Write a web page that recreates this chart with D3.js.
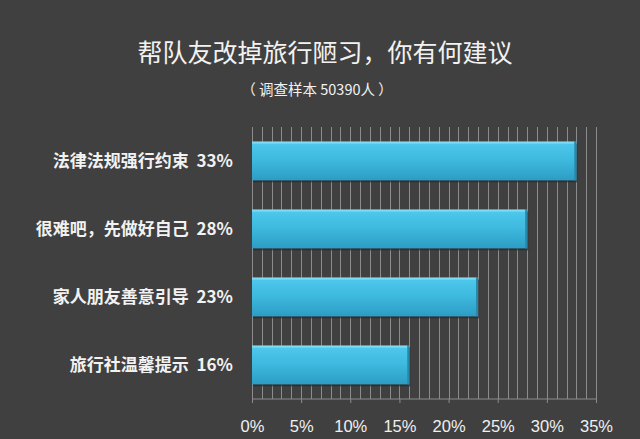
<!DOCTYPE html>
<html>
<head>
<meta charset="utf-8">
<script src="https://cdn.jsdelivr.net/npm/d3@7"></script>
<style>
  html, body { margin: 0; padding: 0; background: #404040; }
  svg { display: block; font-family: "Noto Sans CJK SC", "Noto Sans", sans-serif; }
</style>
</head>
<body>
<div id="chart"></div>
<script>
"use strict";

var categories = ["法律法规强行约束", "很难吧，先做好自己", "家人朋友善意引导", "旅行社温馨提示"];
var values = [33, 28, 23, 16];
var tickValues = [0, 5, 10, 15, 20, 25, 30, 35];
var title = "帮队友改掉旅行陋习，你有何建议";
var subtitle = "（ 调查样本 50390人 ）";

var W = 640, H = 439;
var margin = {top: 127, right: 44, bottom: 40, left: 252};
var width = W - margin.left - margin.right,
    height = H - margin.top - margin.bottom;

var x = d3.scaleLinear().domain([0, 35]).range([0, width]);
var y = d3.scaleBand().domain(categories).range([0, height]).paddingInner(0.43).paddingOuter(0.215);

var svgRoot = d3.select("#chart").append("svg")
    .attr("width", W).attr("height", H);

svgRoot.append("rect").attr("width", W).attr("height", H).attr("fill", "#404040");

var defs = svgRoot.append("defs");
var grad = defs.append("linearGradient").attr("id", "barGrad")
    .attr("x1", 0).attr("y1", 0).attr("x2", 0).attr("y2", 1);
grad.append("stop").attr("offset", "0%").attr("stop-color", "#4fc9ec");
grad.append("stop").attr("offset", "45%").attr("stop-color", "#3fbae0");
grad.append("stop").attr("offset", "100%").attr("stop-color", "#2c9dc4");

svgRoot.append("text")
    .attr("x", 325).attr("y", 62)
    .attr("text-anchor", "middle")
    .attr("fill", "#f2f2f2")
    .attr("font-size", 25)
    .text(title);

svgRoot.append("text")
    .attr("x", 317).attr("y", 95)
    .attr("text-anchor", "middle")
    .attr("fill", "#f2f2f2")
    .attr("font-size", 14.5)
    .text(subtitle);

var svg = svgRoot.append("g")
    .attr("transform", "translate(" + margin.left + "," + margin.top + ")");

// minor gridlines every 1%
svg.append("g")
    .selectAll("line")
    .data(d3.range(0, 36))
    .enter().append("line")
    .attr("x1", d => Math.round(x(d)) + 0.5)
    .attr("x2", d => Math.round(x(d)) + 0.5)
    .attr("y1", 0).attr("y2", height)
    .attr("stroke", "#8c8c8c")
    .attr("stroke-width", 1);

// bottom axis
var axis = svg.append("g")
    .attr("transform", "translate(0," + height + ")")
    .call(d3.axisBottom(x).tickValues(tickValues).tickSize(4).tickFormat(d => d + "%"));
axis.select(".domain").attr("stroke", "#8c8c8c").attr("d", "M0.5,0H" + (width + 0.5));
axis.selectAll(".tick line").attr("stroke", "#8c8c8c");
axis.selectAll(".tick text")
    .attr("fill", "#f0f0f0")
    .attr("font-size", 16.5)
    .attr("dy", "1.55em");

// shadows
svg.selectAll(".shadow")
    .data(values)
    .enter().append("rect")
    .attr("class", "shadow")
    .attr("x", 1)
    .attr("y", (d, i) => y(categories[i]) + 2)
    .attr("width", d => x(d))
    .attr("height", y.bandwidth())
    .attr("fill", "#2a2a2a")
    .attr("opacity", 0.7);

svg.selectAll(".bar")
    .data(values)
    .enter().append("rect")
    .attr("class", "bar")
    .attr("x", 0)
    .attr("y", (d, i) => y(categories[i]))
    .attr("width", d => x(d))
    .attr("height", y.bandwidth())
    .attr("fill", "url(#barGrad)");

svg.selectAll(".hl")
    .data(values)
    .enter().append("rect")
    .attr("class", "hl")
    .attr("x", 0)
    .attr("y", (d, i) => y(categories[i]))
    .attr("width", d => x(d) - 2)
    .attr("height", 2)
    .attr("fill", "#7fdaf3");

svg.selectAll(".edge")
    .data(values)
    .enter().append("rect")
    .attr("class", "edge")
    .attr("x", d => x(d) - 2)
    .attr("y", (d, i) => y(categories[i]))
    .attr("width", 2)
    .attr("height", y.bandwidth())
    .attr("fill", "#2788ab");

svg.selectAll(".label")
    .data(values)
    .enter().append("text")
    .attr("class", "label")
    .attr("x", -19)
    .attr("y", (d, i) => y(categories[i]) + y.bandwidth() / 2)
    .attr("dy", "0.36em")
    .attr("text-anchor", "end")
    .attr("fill", "#f2f2f2")
    .attr("font-size", 17)
    .attr("font-weight", "bold")
    .attr("xml:space", "preserve")
    .text((d, i) => categories[i] + "  " + d + "%");
</script>
</body>
</html>
